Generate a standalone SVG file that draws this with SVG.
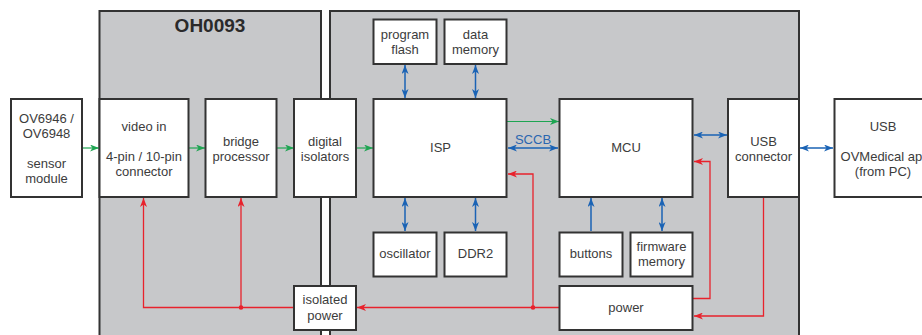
<svg xmlns="http://www.w3.org/2000/svg" width="922" height="335" viewBox="0 0 922 335">
<style>
.panel{fill:#c7c8ca;stroke:#333;stroke-width:2}
.box{fill:#fff;stroke:#333;stroke-width:2}
text{font-family:"Liberation Sans",Arial,sans-serif;font-size:13px;fill:#3c3c3c;text-anchor:middle}
.title{font-size:19px;font-weight:bold;fill:#2a2a2a}
.g{stroke:#1ea552;stroke-width:1.2;fill:none}
.b{stroke:#1a63b5;stroke-width:1.5;fill:none}
.r{stroke:#e8222c;stroke-width:1.3;fill:none}
.lbl{fill:#2a66b0;font-size:13px}
</style>
<defs>
<marker id="ag" viewBox="0 0 9 7" refX="9" refY="3.5" markerWidth="9" markerHeight="7" markerUnits="userSpaceOnUse" orient="auto-start-reverse"><path d="M0,0 L9,3.5 L0,7 L2.5,3.5 z" fill="#1ea552"/></marker>
<marker id="ab" viewBox="0 0 9 7" refX="9" refY="3.5" markerWidth="9" markerHeight="7" markerUnits="userSpaceOnUse" orient="auto-start-reverse"><path d="M0,0 L9,3.5 L0,7 L2.5,3.5 z" fill="#1a63b5"/></marker>
<marker id="ar" viewBox="0 0 9 7" refX="9" refY="3.5" markerWidth="9" markerHeight="7" markerUnits="userSpaceOnUse" orient="auto-start-reverse"><path d="M0,0 L9,3.5 L0,7 L2.5,3.5 z" fill="#e8222c"/></marker>
</defs>

<g id="panel-oh0093">
<rect class="panel" x="99.5" y="11" width="221.5" height="332"/>
<text class="title" x="210" y="32">OH0093</text>
</g>
<g id="panel-main">
<rect class="panel" x="330" y="11" width="469" height="332"/>
</g>

<g id="connectors">
<line class="g" x1="82" y1="148" x2="99" y2="148" marker-end="url(#ag)"/>
<line class="g" x1="188" y1="148" x2="205" y2="148" marker-end="url(#ag)"/>
<line class="g" x1="277" y1="148" x2="294" y2="148" marker-end="url(#ag)"/>
<line class="g" x1="356" y1="148" x2="373" y2="148" marker-end="url(#ag)"/>
<line class="g" x1="507" y1="121.5" x2="559" y2="121.5" marker-end="url(#ag)"/>

<line class="b" x1="508" y1="148" x2="558" y2="148" marker-start="url(#ab)" marker-end="url(#ab)"/>
<text class="lbl" x="533" y="144">SCCB</text>
<line class="b" x1="405" y1="65" x2="405" y2="98" marker-start="url(#ab)" marker-end="url(#ab)"/>
<line class="b" x1="475.5" y1="65" x2="475.5" y2="98" marker-start="url(#ab)" marker-end="url(#ab)"/>
<line class="b" x1="405" y1="198" x2="405" y2="231" marker-start="url(#ab)" marker-end="url(#ab)"/>
<line class="b" x1="475.5" y1="198" x2="475.5" y2="231" marker-start="url(#ab)" marker-end="url(#ab)"/>
<line class="b" x1="591" y1="231" x2="591" y2="198" marker-end="url(#ab)"/>
<line class="b" x1="662" y1="198" x2="662" y2="231" marker-start="url(#ab)" marker-end="url(#ab)"/>
<line class="b" x1="694" y1="135" x2="727" y2="135" marker-start="url(#ab)" marker-end="url(#ab)"/>
<line class="b" x1="800" y1="148" x2="833" y2="148" marker-start="url(#ab)" marker-end="url(#ab)"/>

<line class="r" x1="559" y1="307.5" x2="357" y2="307.5" marker-end="url(#ar)"/>
<polyline class="r" points="533,307.5 533,174 508,174" marker-end="url(#ar)"/>
<circle cx="533" cy="307.5" r="2.3" fill="#e8222c"/>
<polyline class="r" points="294,307.5 143.5,307.5 143.5,198" marker-end="url(#ar)"/>
<line class="r" x1="241" y1="307.5" x2="241" y2="198" marker-end="url(#ar)"/>
<circle cx="241" cy="307.5" r="2.3" fill="#e8222c"/>
<polyline class="r" points="693,298.5 710,298.5 710,161.5 694,161.5" marker-end="url(#ar)"/>
<polyline class="r" points="763.5,197 763.5,316 694,316" marker-end="url(#ar)"/>
</g>

<g id="sensor">
<rect class="box" x="11" y="99" width="71" height="98"/>
<text x="46.5" y="123">OV6946 /</text>
<text x="46.5" y="138">OV6948</text>
<text x="46.5" y="168">sensor</text>
<text x="46.5" y="183">module</text>
</g>
<g id="video-in">
<rect class="box" x="99.5" y="99" width="89" height="98"/>
<text x="144" y="131">video in</text>
<text x="144" y="161">4-pin / 10-pin</text>
<text x="144" y="176">connector</text>
</g>
<g id="bridge">
<rect class="box" x="205.5" y="99" width="71" height="98"/>
<text x="241" y="146">bridge</text>
<text x="241" y="161">processor</text>
</g>
<g id="isolators">
<rect class="box" x="294" y="99" width="62" height="98"/>
<text x="325" y="146">digital</text>
<text x="325" y="161">isolators</text>
</g>
<g id="program-flash">
<rect class="box" x="373.5" y="19.5" width="63" height="44.5"/>
<text x="405" y="38.5">program</text>
<text x="405" y="53.5">flash</text>
</g>
<g id="data-memory">
<rect class="box" x="444.5" y="19.5" width="62" height="44.5"/>
<text x="475.5" y="38.5">data</text>
<text x="475.5" y="53.5">memory</text>
</g>
<g id="isp">
<rect class="box" x="373.5" y="99" width="133" height="98"/>
<text x="440.5" y="152">ISP</text>
</g>
<g id="mcu">
<rect class="box" x="559.5" y="99" width="133" height="98"/>
<text x="626" y="152">MCU</text>
</g>
<g id="usb-connector">
<rect class="box" x="728" y="99" width="71" height="98"/>
<text x="763.5" y="146">USB</text>
<text x="763.5" y="161">connector</text>
</g>
<g id="usb-pc">
<rect class="box" x="834.5" y="99" width="100" height="98"/>
<text x="883" y="131">USB</text>
<text x="885" y="161">OVMedical app</text>
<text x="883" y="176">(from PC)</text>
</g>
<g id="oscillator">
<rect class="box" x="373.5" y="232.5" width="63" height="44"/>
<text x="405" y="258">oscillator</text>
</g>
<g id="ddr2">
<rect class="box" x="444.5" y="232.5" width="62" height="44"/>
<text x="475.5" y="258">DDR2</text>
</g>
<g id="buttons">
<rect class="box" x="559.5" y="232.5" width="63" height="44"/>
<text x="591" y="258">buttons</text>
</g>
<g id="firmware-memory">
<rect class="box" x="630.5" y="232.5" width="62" height="44"/>
<text x="661.5" y="251">firmware</text>
<text x="661.5" y="266">memory</text>
</g>
<g id="power">
<rect class="box" x="559.5" y="286" width="133" height="44"/>
<text x="626" y="312">power</text>
</g>
<g id="isolated-power">
<rect class="box" x="294" y="286" width="62" height="44"/>
<text x="325" y="304">isolated</text>
<text x="325" y="319.5">power</text>
</g>
</svg>
